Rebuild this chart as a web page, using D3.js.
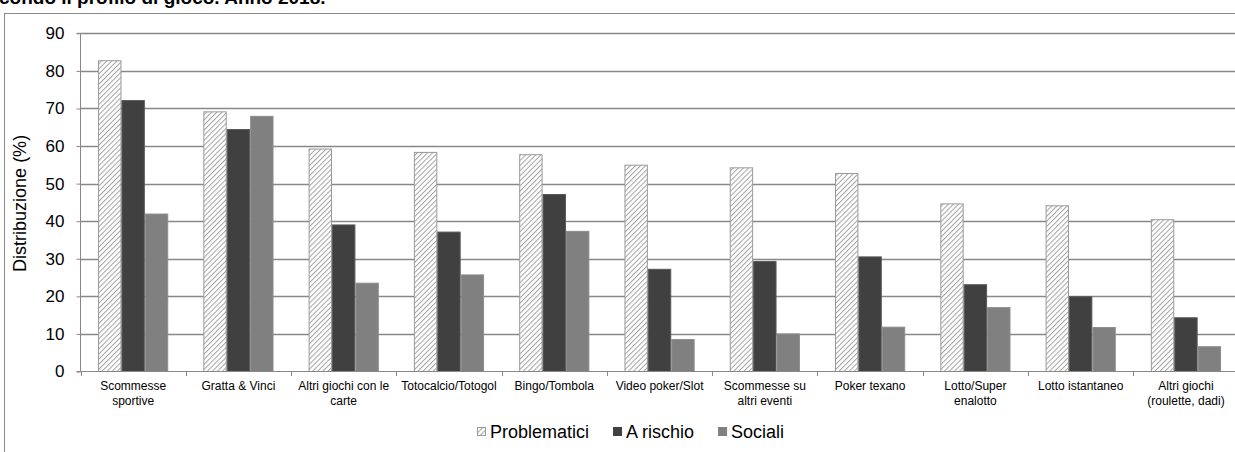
<!DOCTYPE html>
<html>
<head>
<meta charset="utf-8">
<script src="https://cdn.jsdelivr.net/npm/d3@7"></script>
<style>
  html, body { margin: 0; padding: 0; background: #fff; }
  svg { display: block; font-family: "Liberation Sans", Arial, sans-serif; }
</style>
</head>
<body>
<svg id="chart" width="1235" height="452"></svg>
<script>
// Categorie di gioco
const categories = [
  ["Scommesse", "sportive"],
  ["Gratta & Vinci"],
  ["Altri giochi con le", "carte"],
  ["Totocalcio/Totogol"],
  ["Bingo/Tombola"],
  ["Video poker/Slot"],
  ["Scommesse su", "altri eventi"],
  ["Poker texano"],
  ["Lotto/Super", "enalotto"],
  ["Lotto istantaneo"],
  ["Altri giochi", "(roulette, dadi)"]
];
const seriesNames = ["Problematici", "A rischio", "Sociali"];
const problematici = [82.7, 69.1, 59.2, 58.3, 57.7, 54.9, 54.2, 52.7, 44.6, 44.1, 40.4];
const aRischio     = [72.1, 64.4, 39.0, 37.1, 47.1, 27.2, 29.3, 30.5, 23.1, 19.9, 14.3];
const sociali      = [41.9, 67.9, 23.5, 25.7, 37.3, 8.5, 10.0, 11.8, 17.0, 11.7, 6.6];
const yTicks = [0, 10, 20, 30, 40, 50, 60, 70, 80, 90];

const svg = d3.select("#chart");
const catKeys = categories.map(c => c.join(" "));
const values = [problematici, aRischio, sociali];

// Pattern a righe oblique per la serie "Problematici"
const defs = svg.append("defs");
const pat = defs.append("pattern")
  .attr("id", "hatch")
  .attr("patternUnits", "userSpaceOnUse")
  .attr("width", 3.6).attr("height", 3.6)
  .attr("patternTransform", "rotate(45)");
pat.append("rect").attr("width", 3.6).attr("height", 3.6).attr("fill", "#ffffff");
pat.append("line").attr("x1", 0).attr("y1", 0).attr("x2", 0).attr("y2", 3.6)
  .attr("stroke", "#a3a3a3").attr("stroke-width", 2);

const fills = ["url(#hatch)", "#404040", "#808080"];
const strokes = ["#9a9a9a", "#5a5a5a", "#8c8c8c"];

// Titolo (parzialmente fuori dal riquadro)
svg.append("text")
  .attr("x", -1).attr("y", 4)
  .attr("font-family", "'Liberation Sans', Arial, sans-serif")
  .attr("font-weight", "bold")
  .attr("font-size", 19)
  .attr("fill", "#000")
  .text("condo il profilo di gioco. Anno 2018.");

// Riquadro esterno del grafico
svg.append("rect")
  .attr("x", 4.5).attr("y", 13.5)
  .attr("width", 1300).attr("height", 500)
  .attr("fill", "none").attr("stroke", "#8a8a8a").attr("stroke-width", 1);

const x = d3.scaleBand().domain(catKeys).range([80.5, 1238.6]).padding(0);
const barsPerBand = 4.5;
const xSub = d3.scaleBand().domain(seriesNames)
  .range([x.bandwidth() * 0.75 / barsPerBand, x.bandwidth() * 3.75 / barsPerBand])
  .padding(0);
const y = d3.scaleLinear().domain([0, 90]).range([371.5, 33.3]);

// Griglia orizzontale
svg.append("g")
  .selectAll("line")
  .data(yTicks.filter(t => t > 0))
  .join("line")
  .attr("x1", 80.5).attr("x2", 1240)
  .attr("y1", d => Math.round(y(d)) + 0.5).attr("y2", d => Math.round(y(d)) + 0.5)
  .attr("stroke", "#888888").attr("stroke-width", 1.3);

// Barre
const groups = svg.append("g").selectAll("g")
  .data(catKeys)
  .join("g")
  .attr("transform", d => `translate(${x(d)},0)`);

groups.selectAll("rect")
  .data((d, i) => seriesNames.map((s, j) => ({ s, j, v: values[j][i] })))
  .join("rect")
  .attr("x", d => xSub(d.s) + 0.5)
  .attr("width", xSub.bandwidth() - 1)
  .attr("y", d => y(d.v))
  .attr("height", d => y(0) - y(d.v))
  .attr("fill", d => fills[d.j])
  .attr("stroke", d => strokes[d.j])
  .attr("stroke-width", 1);

// Asse Y
const yAxis = d3.axisLeft(y).tickValues(yTicks).tickSize(4).tickPadding(12);
const gy = svg.append("g").attr("transform", "translate(80.5,0)").call(yAxis);
gy.select(".domain").attr("stroke", "#888888").attr("d", `M-4,${y(90)}H0V${y(0)}`);
gy.selectAll(".tick line").attr("stroke", "#888888");
gy.selectAll(".tick text").attr("font-size", 17).attr("fill", "#000")
  .attr("font-family", "'Liberation Sans', Arial, sans-serif");

// Asse X: linea di base e tacche tra le categorie
const gx = svg.append("g");
gx.append("line").attr("x1", 76.5).attr("x2", 1240)
  .attr("y1", 371.5).attr("y2", 371.5).attr("stroke", "#888888");
gx.selectAll("line.tk")
  .data(catKeys.concat(["_end"]))
  .join("line").attr("class", "tk")
  .attr("x1", (d, i) => Math.round(x.range()[0] + i * x.step()) + 0.5)
  .attr("x2", (d, i) => Math.round(x.range()[0] + i * x.step()) + 0.5)
  .attr("y1", 371.5).attr("y2", 376)
  .attr("stroke", "#888888");

// Etichette categorie (una o due righe)
const labels = svg.append("g").selectAll("text")
  .data(categories)
  .join("text")
  .attr("x", (d, i) => x(catKeys[i]) + x.bandwidth() / 2)
  .attr("y", 390)
  .attr("text-anchor", "middle")
  .attr("font-size", 12)
  .attr("fill", "#000");
labels.selectAll("tspan")
  .data(d => d)
  .join("tspan")
  .attr("x", function() { return d3.select(this.parentNode).attr("x"); })
  .attr("dy", (d, i) => i === 0 ? 0 : 15)
  .text(d => d);

// Titolo asse Y
svg.append("text")
  .attr("transform", `translate(26,${(y(0) + y(90)) / 2 + 1}) rotate(-90)`)
  .attr("text-anchor", "middle")
  .attr("font-size", 18)
  .attr("fill", "#000")
  .text("Distribuzione (%)");

// Legenda
const legend = svg.append("g");
let lx = 477;
seriesNames.forEach((name, j) => {
  const g = legend.append("g").attr("transform", `translate(${lx},0)`);
  g.append("rect").attr("x", 0.5).attr("y", 427.5).attr("width", 8).attr("height", 8)
    .attr("fill", fills[j]).attr("stroke", j === 0 ? "#9a9a9a" : fills[j]);
  const t = g.append("text").attr("x", 13).attr("y", 438)
    .attr("font-size", 18).attr("fill", "#000").text(name);
  lx += 13 + t.node().getComputedTextLength() + 24;
});
</script>
</body>
</html>
